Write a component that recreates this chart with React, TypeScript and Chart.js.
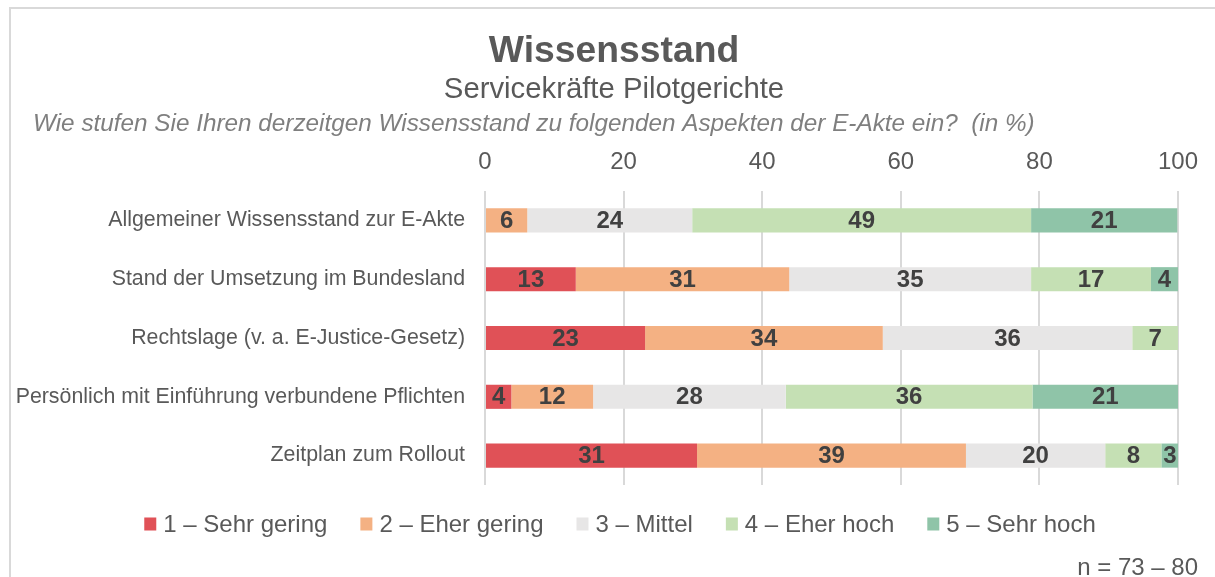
import React, { useEffect, useRef } from "react";
import { Chart, registerables } from "chart.js";
Chart.register(...registerables);

const categories = [
  "Allgemeiner Wissensstand zur E-Akte",
  "Stand der Umsetzung im Bundesland",
  "Rechtslage (v. a. E-Justice-Gesetz)",
  "Persönlich mit Einführung verbundene Pflichten",
  "Zeitplan zum Rollout",
];
const seriesNames = ["1 – Sehr gering", "2 – Eher gering", "3 – Mittel", "4 – Eher hoch", "5 – Sehr hoch"];
const sehrGering = [0, 13.1, 23.1, 3.8, 30.6];
const eherGering = [6.1, 30.8, 34.3, 11.8, 38.8];
const mittel = [23.8, 34.9, 36.0, 27.8, 20.1];
const eherHoch = [48.9, 17.3, 6.6, 35.6, 8.1];
const sehrHoch = [21.1, 3.9, 0, 21.0, 2.5];
const seriesColors = ["#E05157", "#F4B183", "#E7E6E6", "#C5E0B4", "#8FC4A8"];
const xTicks = [0, 20, 40, 60, 80, 100];

const titleText = "Wissensstand";
const subtitleText = "Servicekräfte Pilotgerichte";
const questionText = "Wie stufen Sie Ihren derzeitgen Wissensstand zu folgenden Aspekten der E-Akte ein?  (in %)";
const noteText = "n = 73 – 80";

const FONT = "'Liberation Sans', Arial, sans-serif";

const decorPlugin = {
  id: "decor",
  beforeDraw(chart: any) {
    const ctx = chart.ctx;
    ctx.save();
    ctx.strokeStyle = "#D9D9D9";
    ctx.lineWidth = 2;
    ctx.beginPath();
    ctx.moveTo(10, chart.height + 5);
    ctx.lineTo(10, 8);
    ctx.lineTo(chart.width + 5, 8);
    ctx.stroke();
    ctx.restore();
  },
  afterDatasetsDraw(chart: any) {
    const ctx = chart.ctx;
    ctx.save();
    ctx.font = `bold 24px ${FONT}`;
    ctx.fillStyle = "#404040";
    ctx.textAlign = "center";
    ctx.textBaseline = "middle";
    chart.data.datasets.forEach((ds: any, di: number) => {
      const meta = chart.getDatasetMeta(di);
      meta.data.forEach((el: any, i: number) => {
        const v = ds.data[i];
        if (!v) return;
        const cx = (el.x + el.base) / 2;
        ctx.fillText(String(Math.round(v)), cx, el.y + 1);
      });
    });
    ctx.restore();
  },
  afterDraw(chart: any) {
    const ctx = chart.ctx;
    ctx.save();
    ctx.textAlign = "center";
    ctx.textBaseline = "alphabetic";
    ctx.fillStyle = "#595959";
    ctx.font = `bold 37.3px ${FONT}`;
    ctx.fillText(titleText, 614, 62);
    ctx.font = `29.3px ${FONT}`;
    ctx.fillText(subtitleText, 614, 98);
    ctx.textAlign = "left";
    ctx.fillStyle = "#7F7F7F";
    ctx.font = `italic 24.3px ${FONT}`;
    ctx.fillText(questionText, 33, 131);
    ctx.textAlign = "right";
    ctx.fillStyle = "#595959";
    ctx.font = `24px ${FONT}`;
    ctx.fillText(noteText, 1198, 575);

    // legend
    ctx.font = `24px ${FONT}`;
    const box = 12;
    const gap = 7;
    const spacing = 33;
    const widths = chart.data.datasets.map((ds: any) => ctx.measureText(ds.label).width);
    const total = widths.reduce((a: number, w: number) => a + w + box + gap, 0) + spacing * (widths.length - 1);
    let x = 620 - total / 2;
    const y = 524;
    ctx.textAlign = "left";
    ctx.textBaseline = "middle";
    chart.data.datasets.forEach((ds: any, i: number) => {
      ctx.fillStyle = ds.backgroundColor;
      ctx.fillRect(x, y - 6.5, box, 13);
      ctx.fillStyle = "#595959";
      ctx.fillText(ds.label, x + box + gap, y + 1);
      x += box + gap + widths[i] + spacing;
    });
    ctx.restore();
  },
};

export default function App() {
  const ref = useRef<HTMLCanvasElement | null>(null);
  useEffect(() => {
    document.body.style.margin = "0";
    const values = [sehrGering, eherGering, mittel, eherHoch, sehrHoch];
    const chart = new Chart(ref.current as HTMLCanvasElement, {
      type: "bar",
      data: {
        labels: categories,
        datasets: seriesNames.map((name, i) => ({
          label: name,
          data: values[i],
          backgroundColor: seriesColors[i],
          borderWidth: 0,
          barPercentage: 0.41,
          categoryPercentage: 1,
        })),
      },
      options: {
        indexAxis: "y",
        animation: false,
        responsive: false,
        maintainAspectRatio: false,
        layout: { padding: { top: 140, left: 0, right: 37, bottom: 92 } },
        plugins: {
          legend: { display: false },
          title: { display: false },
          tooltip: { enabled: false },
        },
        scales: {
          x: {
            position: "top",
            stacked: true,
            min: 0,
            max: 100,
            afterBuildTicks: (scale: any) => {
              scale.ticks = xTicks.map((v) => ({ value: v }));
            },
            afterFit: (scale: any) => {
              scale.height = 51;
            },
            ticks: {
              color: "#595959",
              font: { family: FONT, size: 24 },
              padding: 14,
              maxRotation: 0,
            },
            grid: { color: "#D9D9D9", lineWidth: 2, drawTicks: false },
            border: { display: false },
          },
          y: {
            stacked: true,
            afterFit: (scale: any) => {
              scale.width = 485;
            },
            ticks: {
              color: "#595959",
              font: { family: FONT, size: 21.33 },
              padding: 20,
            },
            grid: { display: false, drawTicks: false },
            border: { display: false },
          },
        },
      },
      plugins: [decorPlugin],
    });
    return () => chart.destroy();
  }, []);
  return <canvas ref={ref} width={1215} height={577} style={{ display: "block" }} />;
}
